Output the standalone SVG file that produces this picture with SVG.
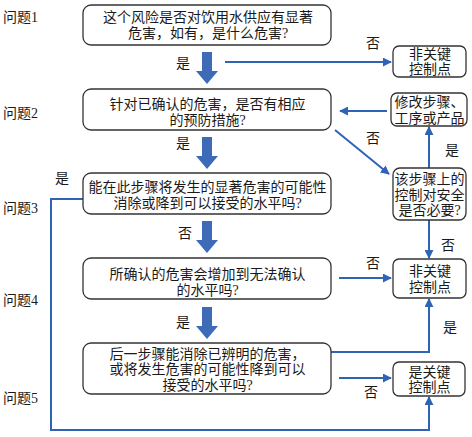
<svg xmlns="http://www.w3.org/2000/svg" width="472" height="437" viewBox="0 0 472 437">
<defs>
<style>
.t{font-family:"Liberation Serif","Noto Sans CJK SC",serif;font-size:14px;fill:#1a1a1a;text-anchor:middle}
.l{font-family:"Liberation Serif","Noto Sans CJK SC",serif;font-size:14px;fill:#1a1a1a;text-anchor:middle}
.q{font-family:"Liberation Serif","Noto Sans CJK SC",serif;font-size:14px;fill:#1a1a1a}
.box{fill:#fff;stroke:#333;stroke-width:1.3}
.ln{fill:none;stroke:#2f63b5;stroke-width:2}
.big{fill:#3d6bb8}
</style>
<marker id="ah" viewBox="0 0 10 10" refX="9" refY="5" markerWidth="9" markerHeight="9" markerUnits="userSpaceOnUse" orient="auto">
<path d="M0,0 L10,5 L0,10 z" fill="#2f63b5"/>
</marker>
<path id="fat" d="M-5,0 H5 V19 H11 L0,32 L-11,19 H-5 Z"/>
</defs>

<g id="labels">
<text class="q" x="3" y="22">问题1</text>
<text class="q" x="3" y="118">问题2</text>
<text class="q" x="3" y="213">问题3</text>
<text class="q" x="3" y="305">问题4</text>
<text class="q" x="3" y="403">问题5</text>
</g>

<g id="connectors">
<use href="#fat" class="big" x="207" y="52"/>
<use href="#fat" class="big" x="207" y="137"/>
<use href="#fat" class="big" x="207" y="221"/>
<use href="#fat" class="big" x="207" y="307"/>
<text class="l" x="183" y="68">是</text>
<text class="l" x="183" y="148">是</text>
<text class="l" x="185" y="238">否</text>
<text class="l" x="183" y="327">是</text>

<path class="ln" d="M225,62 H391" marker-end="url(#ah)"/>
<text class="l" x="373" y="48">否</text>

<path class="ln" d="M387,111 H340" marker-end="url(#ah)"/>
<path class="ln" d="M335,130 L389,174" marker-end="url(#ah)"/>
<text class="l" x="373" y="143">否</text>

<path class="ln" d="M429,168 V127" marker-end="url(#ah)"/>
<text class="l" x="452" y="155">是</text>

<path class="ln" d="M429,220 V258" marker-end="url(#ah)"/>
<text class="l" x="448" y="250">否</text>

<path class="ln" d="M339,278 H391" marker-end="url(#ah)"/>
<text class="l" x="373" y="268">否</text>

<path class="ln" d="M331,352 H429 V299" marker-end="url(#ah)"/>
<text class="l" x="450" y="332">是</text>

<path class="ln" d="M339,378 H391" marker-end="url(#ah)"/>
<text class="l" x="371" y="397">否</text>

<path class="ln" d="M83,199 H51 V430 H429 V397" marker-end="url(#ah)"/>
<text class="l" x="62" y="183">是</text>
</g>

<g id="q1">
<rect class="box" x="83" y="5" width="248" height="40" rx="8"/>
<text class="t" x="208" y="22.3">这个风险是否对饮用水供应有显著</text>
<text class="t" x="208" y="38.3">危害，如有，是什么危害?</text>
</g>
<g id="q2">
<rect class="box" x="83" y="89" width="248" height="41" rx="8"/>
<text class="t" x="207.5" y="108.8">针对已确认的危害，是否有相应</text>
<text class="t" x="207.5" y="124.8">的预防措施?</text>
</g>
<g id="q3">
<rect class="box" x="83" y="173" width="248" height="41" rx="8"/>
<text class="t" x="207.5" y="192.3">能在此步骤将发生的显著危害的可能性</text>
<text class="t" x="207.5" y="208.3">消除或降到可以接受的水平吗?</text>
</g>
<g id="q4">
<rect class="box" x="83" y="258" width="248" height="41" rx="8"/>
<text class="t" x="207.5" y="279.3">所确认的危害会增加到无法确认</text>
<text class="t" x="207.5" y="295.3">的水平吗?</text>
</g>
<g id="q5">
<rect class="box" x="83" y="343" width="248" height="51" rx="8"/>
<text class="t" x="207.5" y="358.8">后一步骤能消除已辨明的危害，</text>
<text class="t" x="207.5" y="374.3">或将发生危害的可能性降到可以</text>
<text class="t" x="207.5" y="389.8">接受的水平吗?</text>
</g>

<g id="nc1">
<rect class="box" x="393" y="46" width="73" height="31" rx="6"/>
<text class="t" x="430" y="58.8">非关键</text>
<text class="t" x="430" y="74.3">控制点</text>
</g>
<g id="modify">
<rect class="box" x="391" y="93" width="76" height="33" rx="6"/>
<text class="t" x="429.5" y="107.3">修改步骤、</text>
<text class="t" x="429.5" y="122.8">工序或产品</text>
</g>
<g id="necessary">
<rect class="box" x="393" y="168" width="73" height="52" rx="7"/>
<text class="t" x="429.5" y="184.3">该步骤上的</text>
<text class="t" x="429.5" y="199.8">控制对安全</text>
<text class="t" x="429.5" y="215.3">是否必要?</text>
</g>
<g id="nc2">
<rect class="box" x="393" y="259" width="73" height="39" rx="6"/>
<text class="t" x="430" y="276.3">非关键</text>
<text class="t" x="430" y="291.8">控制点</text>
</g>
<g id="ccp">
<rect class="box" x="393" y="362" width="72" height="34" rx="6"/>
<text class="t" x="429.5" y="376.8">是关键</text>
<text class="t" x="429.5" y="392.3">控制点</text>
</g>
</svg>
